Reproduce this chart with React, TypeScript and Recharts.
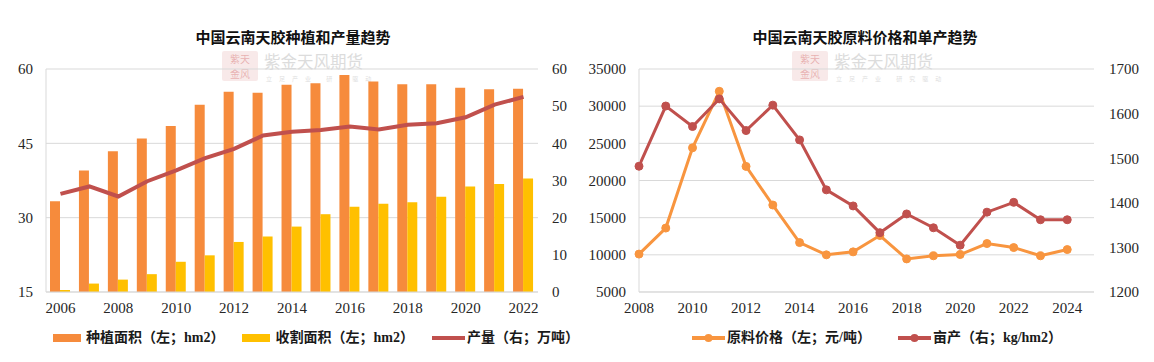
import React from 'react';
import { ComposedChart, LineChart, Bar, Line, XAxis, YAxis, CartesianGrid, Legend } from 'recharts';

const FONT = '"Liberation Serif", "Times New Roman", "Noto Sans CJK SC", serif';
const CJK = '"Noto Sans CJK SC", sans-serif';

// ---- Left chart data ----
const yearsA = ['2006', '2007', '2008', '2009', '2010', '2011', '2012', '2013', '2014', '2015', '2016', '2017', '2018', '2019', '2020', '2021', '2022'];
const plantedArea = [33.3, 39.5, 43.4, 46.0, 48.5, 52.8, 55.4, 55.2, 56.8, 57.1, 58.8, 57.5, 56.9, 56.9, 56.2, 55.9, 56.0];
const harvestedArea = [15.4, 16.7, 17.5, 18.6, 21.1, 22.4, 25.1, 26.2, 28.2, 30.7, 32.2, 32.8, 33.1, 34.2, 36.3, 36.8, 37.9];
const outputVolume = [26.4, 28.4, 25.7, 29.8, 32.7, 36.0, 38.5, 42.1, 43.1, 43.6, 44.5, 43.7, 45.0, 45.4, 47.0, 50.4, 52.5];
const leftTicksA = [15, 30, 45, 60];
const rightTicksA = [0, 10, 20, 30, 40, 50, 60];
const legendOrderA = ['planted', 'harvested', 'output'];

// ---- Right chart data ----
const yearsB = ['2008', '2009', '2010', '2011', '2012', '2013', '2014', '2015', '2016', '2017', '2018', '2019', '2020', '2021', '2022', '2023', '2024', '2025'];
const rawPrice = [10100, 13600, 24400, 32000, 21900, 16700, 11650, 10000, 10400, 12600, 9450, 9870, 10040, 11520, 10980, 9870, 10710, null];
const yieldPerArea = [1482, 1617, 1571, 1633, 1562, 1619, 1541, 1429, 1393, 1333, 1375, 1344, 1305, 1379, 1401, 1362, 1362, null];
const leftTicksB = [5000, 10000, 15000, 20000, 25000, 30000, 35000];
const rightTicksB = [1200, 1300, 1400, 1500, 1600, 1700];
const legendOrderB = ['price', 'yield'];

const ORANGE = '#F68B3C';
const YELLOW = '#FFC000';
const RED = '#C0504D';
const PRICE = '#F8953F';
const GRID = '#D9D9D9';

const dataA = yearsA.map((year, i) => ({ year, planted: plantedArea[i], harvested: harvestedArea[i], output: outputVolume[i] }));
const dataB = yearsB.map((year, i) => ({ year, price: rawPrice[i], yield: yieldPerArea[i] }));

const tickStyle = { fontSize: 15, fill: '#262626', fontFamily: FONT };

const makeLegend = (order: string[], paddingLeft: number, gap: number, withDots: boolean) => (props: any) => {
  const payload = [...(props.payload || [])].sort(
    (a: any, b: any) => order.indexOf(String(a.dataKey)) - order.indexOf(String(b.dataKey))
  );
  return (
    <div style={{ display: 'flex', alignItems: 'center', paddingLeft, whiteSpace: 'nowrap', fontFamily: FONT, fontSize: 14, fontWeight: 'bold', color: '#1a1a1a', lineHeight: '16px' }}>
      {payload.map((entry: any, idx: number) => (
        <div key={idx} style={{ display: 'flex', alignItems: 'center', marginLeft: idx === 0 ? 0 : gap }}>
          {entry.type === 'rect' ? (
            <span style={{ display: 'inline-block', width: 28, height: 8, background: entry.color }} />
          ) : (
            <svg width={33} height={10} style={{ display: 'block' }}>
              <line x1={0} y1={5} x2={33} y2={5} stroke={entry.color} strokeWidth={4} />
              {withDots ? <circle cx={16.5} cy={5} r={4} fill={entry.color} /> : null}
            </svg>
          )}
          <span style={{ marginLeft: entry.type === 'rect' ? 5 : 2 }}>{entry.value}</span>
        </div>
      ))}
    </div>
  );
};

const Watermark = ({ left }: { left: number }) => (
  <div style={{ position: 'absolute', left, top: 51, width: 150, height: 32, pointerEvents: 'none' }}>
    <div style={{ position: 'absolute', left: 0, top: 0, width: 36, height: 30, background: 'rgba(214,120,120,0.16)', borderRadius: 2, color: 'rgba(200,70,70,0.35)', fontFamily: CJK, fontSize: 10, lineHeight: '15px', textAlign: 'center', boxSizing: 'border-box' }}>
      <div>紫天</div>
      <div>金风</div>
    </div>
    <div style={{ position: 'absolute', left: 42, top: 0, fontFamily: CJK, fontSize: 16.5, lineHeight: '20px', color: '#dcdcdc', whiteSpace: 'nowrap' }}>紫金天风期货</div>
    <div style={{ position: 'absolute', left: 44, top: 24, fontFamily: CJK, fontSize: 6, lineHeight: '7px', color: '#e0e0e0', whiteSpace: 'nowrap', letterSpacing: 7 }}>立足产业 研究驱动</div>
  </div>
);

const Title = ({ text, center }: { text: string; center: number }) => (
  <div style={{ position: 'absolute', left: center - 150, top: 29, width: 300, textAlign: 'center', fontFamily: FONT, fontSize: 15, fontWeight: 'bold', color: '#111', lineHeight: '18px', whiteSpace: 'nowrap' }}>{text}</div>
);

export default function App() {
  return (
    <div style={{ position: 'absolute', left: 0, top: 0, width: 1154, height: 362, background: '#fff', overflow: 'hidden' }}>
      {/* Left chart */}
      <div style={{ position: 'absolute', left: 0, top: 0, width: 577, height: 362 }}>
        <Watermark left={222} />
        <Title text="中国云南天胶种植和产量趋势" center={293} />
        <ComposedChart width={577} height={362} data={dataA} margin={{ top: 69, right: 0, bottom: 40, left: 0 }} barGap={0} barSize={10}>
          <CartesianGrid yAxisId="left" vertical={false} stroke={GRID} />
          <XAxis dataKey="year" interval={1} tickLine={false} axisLine={{ stroke: GRID }} height={30} tick={tickStyle} tickMargin={4} />
          <YAxis yAxisId="left" domain={[15, 60]} ticks={leftTicksA} width={46} tickLine={false} axisLine={{ stroke: GRID }} tick={tickStyle} tickMargin={7} />
          <YAxis yAxisId="right" orientation="right" domain={[0, 60]} ticks={rightTicksA} width={39} tickLine={false} axisLine={false} tick={tickStyle} tickMargin={8} />
          <Bar yAxisId="left" dataKey="planted" name="种植面积（左；hm2）" fill={ORANGE} legendType="rect" isAnimationActive={false} />
          <Bar yAxisId="left" dataKey="harvested" name="收割面积（左；hm2）" fill={YELLOW} legendType="rect" isAnimationActive={false} />
          <Line yAxisId="right" dataKey="output" name="产量（右；万吨）" stroke={RED} strokeWidth={4} dot={false} legendType="line" isAnimationActive={false} />
          <Legend verticalAlign="middle" align="center" layout="horizontal" wrapperStyle={{ top: 330, left: 0, width: 577 }} content={makeLegend(legendOrderA, 53, 18, false)} />
        </ComposedChart>
      </div>
      {/* Right chart */}
      <div style={{ position: 'absolute', left: 577, top: 0, width: 577, height: 362 }}>
        <Watermark left={215} />
        <Title text="中国云南天胶原料价格和单产趋势" center={288} />
        <LineChart width={577} height={362} data={dataB} margin={{ top: 69, right: 0, bottom: 40, left: 0 }}>
          <CartesianGrid yAxisId="left" vertical={false} stroke={GRID} />
          <XAxis dataKey="year" interval={1} tickLine={false} axisLine={{ stroke: GRID }} height={30} tick={tickStyle} tickMargin={4} />
          <YAxis yAxisId="left" domain={[5000, 35000]} ticks={leftTicksB} width={62} tickLine={false} axisLine={{ stroke: GRID }} tick={tickStyle} tickMargin={7} />
          <YAxis yAxisId="right" orientation="right" domain={[1200, 1700]} ticks={rightTicksB} width={60} tickLine={false} axisLine={false} tick={tickStyle} tickMargin={9} />
          <Line yAxisId="left" dataKey="price" name="原料价格（左；元/吨）" stroke={PRICE} strokeWidth={3} dot={{ r: 4, fill: PRICE, stroke: PRICE, strokeWidth: 1 }} legendType="line" isAnimationActive={false} />
          <Line yAxisId="right" dataKey="yield" name="亩产（右；kg/hm2）" stroke={RED} strokeWidth={3} dot={{ r: 4, fill: RED, stroke: RED, strokeWidth: 1 }} legendType="line" isAnimationActive={false} />
          <Legend verticalAlign="middle" align="center" layout="horizontal" wrapperStyle={{ top: 330, left: 0, width: 577 }} content={makeLegend(legendOrderB, 115, 27, true)} />
        </LineChart>
      </div>
    </div>
  );
}
